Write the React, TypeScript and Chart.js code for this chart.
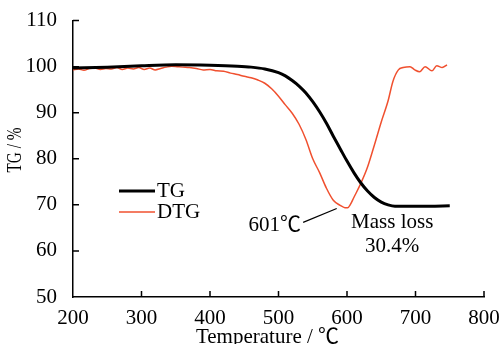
import React, { useEffect, useRef } from "react";
import { Chart, registerables } from "chart.js";

Chart.register(...registerables);

const tgTemp = [200, 250, 300, 350, 400, 440, 460, 480, 500, 510, 520, 530, 540, 550, 560, 570, 580, 590, 600, 610, 620, 630, 640, 650, 660, 670, 690, 720, 750];
const tgVal = [99.7, 99.9, 100.2, 100.4, 100.3, 100.1, 99.9, 99.5, 98.7, 98.0, 97.0, 95.8, 94.3, 92.4, 90.2, 87.7, 84.9, 82.2, 79.5, 77.0, 74.8, 73.0, 71.6, 70.6, 70.0, 69.7, 69.7, 69.7, 69.8];

const dtgTemp = [200, 208, 216, 224, 232, 240, 248, 256, 264, 272, 280, 288, 296, 304, 312, 320, 328, 336, 344, 352, 360, 370, 380, 390, 400, 410, 420, 430, 440, 450, 460, 470, 480, 490, 500, 510, 520, 530, 540, 550, 560, 570, 580, 590, 597, 601, 605, 610, 620, 630, 640, 650, 660, 667, 675, 682, 692, 699, 706, 714, 724, 731, 739, 746];
const dtgVal = [99.3, 99.5, 99.2, 99.6, 99.7, 99.4, 99.6, 99.5, 99.8, 99.4, 99.7, 99.5, 99.8, 99.4, 99.7, 99.3, 99.6, 99.9, 100.1, 100.0, 99.9, 99.8, 99.6, 99.3, 99.4, 99.1, 99.0, 98.6, 98.3, 97.9, 97.6, 97.1, 96.4, 95.2, 93.6, 91.7, 89.9, 87.5, 84.2, 80.0, 77.0, 73.6, 71.0, 69.9, 69.4, 69.4, 70.1, 71.6, 74.6, 78.2, 83.0, 88.0, 92.6, 96.8, 99.3, 99.8, 100.0, 99.3, 98.9, 100.0, 99.1, 100.2, 99.8, 100.4];

const xTicks = [200, 300, 400, 500, 600, 700, 800];
const yTicks = [50, 60, 70, 80, 90, 100, 110];

const SERIF = "'Liberation Serif', 'Noto Sans CJK SC', 'Times New Roman', serif";
const RED = "#f0502f";

const decorPlugin = {
  id: "decor",
  afterDraw(chart: any) {
    const ctx = chart.ctx;
    const xs = chart.scales.x;
    const ys = chart.scales.y;
    const area = chart.chartArea;
    ctx.save();
    // inner ticks
    ctx.strokeStyle = "#000";
    ctx.lineWidth = 1.5;
    ctx.beginPath();
    for (const v of yTicks) {
      if (v === yTicks[0]) continue;
      const y = ys.getPixelForValue(v);
      ctx.moveTo(area.left, y);
      ctx.lineTo(area.left + 6, y);
    }
    for (const v of xTicks) {
      if (v === xTicks[0]) continue;
      const x = xs.getPixelForValue(v);
      ctx.moveTo(x, area.bottom);
      ctx.lineTo(x, area.bottom - 6);
    }
    ctx.stroke();

    // legend
    const lx = 119, lx2 = 155;
    ctx.lineWidth = 3;
    ctx.strokeStyle = "#000";
    ctx.beginPath();
    ctx.moveTo(lx, 191);
    ctx.lineTo(lx2, 191);
    ctx.stroke();
    ctx.lineWidth = 1.5;
    ctx.strokeStyle = RED;
    ctx.beginPath();
    ctx.moveTo(lx, 212);
    ctx.lineTo(lx2, 212);
    ctx.stroke();
    ctx.fillStyle = "#000";
    ctx.font = `21px ${SERIF}`;
    ctx.textAlign = "left";
    ctx.textBaseline = "middle";
    ctx.fillText("TG", 157, 191);
    ctx.fillText("DTG", 157, 212);

    // annotation leader line
    ctx.lineWidth = 1.2;
    ctx.strokeStyle = "#000";
    ctx.beginPath();
    ctx.moveTo(xs.getPixelForValue(536), ys.getPixelForValue(66.2));
    ctx.lineTo(xs.getPixelForValue(585), ys.getPixelForValue(69.2));
    ctx.stroke();

    ctx.textAlign = "right";
    ctx.fillText("601℃", xs.getPixelForValue(533), ys.getPixelForValue(65.6));
    ctx.textAlign = "center";
    ctx.fillText("Mass loss", xs.getPixelForValue(666), ys.getPixelForValue(66.2));
    ctx.fillText("30.4%", xs.getPixelForValue(666), ys.getPixelForValue(60.9));

    // axis titles
    ctx.font = `21px ${SERIF}`;
    ctx.textAlign = "center";
    ctx.textBaseline = "alphabetic";
    ctx.fillText("Temperature / ℃", (area.left + area.right) / 2 - 11, 343);
    ctx.font = `22px ${SERIF}`;
    ctx.save();
    ctx.translate(21, 150);
    ctx.rotate(-Math.PI / 2);
    ctx.fillText("TG / %", 0, 0, 45);
    ctx.restore();

    ctx.restore();
  },
};

export default function App() {
  const ref = useRef<HTMLCanvasElement | null>(null);
  useEffect(() => {
    if (!ref.current) return;
    const chart = new Chart(ref.current, {
      type: "line",
      data: {
        datasets: [
          {
            label: "TG",
            data: tgTemp.map((t, i) => ({ x: t, y: tgVal[i] })),
            borderColor: "#000",
            borderWidth: 3,
            pointRadius: 0,
            cubicInterpolationMode: "monotone",
            fill: false,
          },
          {
            label: "DTG",
            data: dtgTemp.map((t, i) => ({ x: t, y: dtgVal[i] })),
            borderColor: RED,
            borderWidth: 1.5,
            pointRadius: 0,
            cubicInterpolationMode: "monotone",
            fill: false,
          },
        ],
      },
      options: {
        animation: false,
        responsive: false,
        layout: { padding: { top: 18, right: 18, left: 0, bottom: 0 } },
        plugins: { legend: { display: false }, tooltip: { enabled: false } },
        scales: {
          x: {
            type: "linear",
            min: 200,
            max: 800,
            afterBuildTicks: (s: any) => {
              s.ticks = xTicks.map((v) => ({ value: v }));
            },
            ticks: {
              font: { family: SERIF, size: 21 },
              color: "#000",
              padding: 1,
              maxRotation: 0,
            },
            grid: { display: false },
            border: { display: true, color: "#000", width: 1.5 },
            afterFit: (s: any) => {
              s.height = 47;
            },
          },
          y: {
            min: 50,
            max: 110,
            afterBuildTicks: (s: any) => {
              s.ticks = yTicks.map((v) => ({ value: v }));
            },
            ticks: {
              font: { family: SERIF, size: 21 },
              color: "#000",
              padding: 8,
            },
            grid: { display: false },
            border: { display: true, color: "#000", width: 1.5 },
            afterFit: (s: any) => {
              s.width = 73;
            },
          },
        },
      },
      plugins: [decorPlugin],
    } as any);
    return () => chart.destroy();
  }, []);
  return (
    <div style={{ position: "absolute", left: 0, top: 0, width: 502, height: 344, background: "#fff" }}>
      <canvas ref={ref} width={502} height={344} />
    </div>
  );
}
